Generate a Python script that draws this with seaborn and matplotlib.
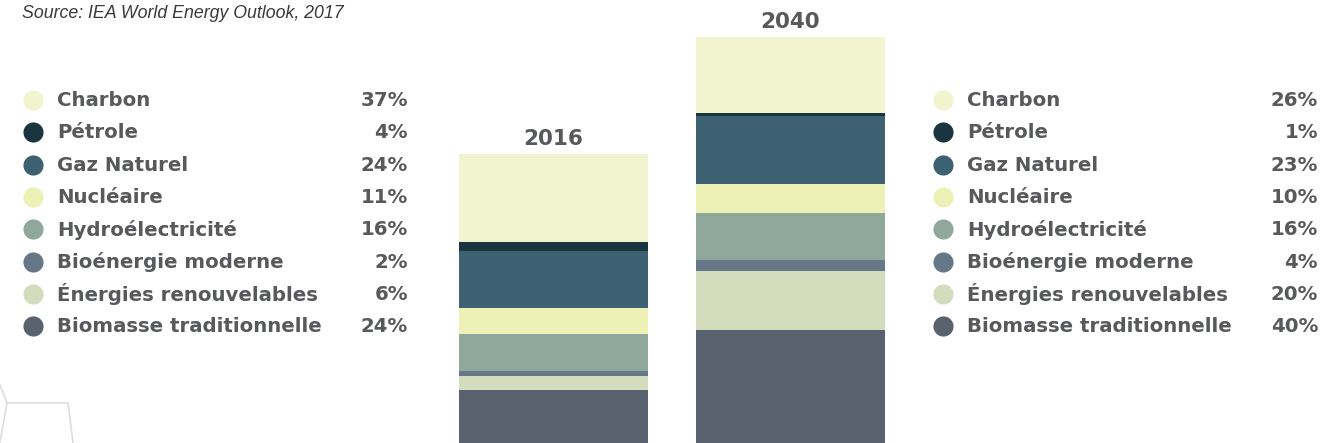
import numpy as np
import pandas as pd
import matplotlib
matplotlib.use("Agg")
import matplotlib.pyplot as plt
import seaborn as sns
from matplotlib.lines import Line2D

# data (shares in %, listed top to bottom as in the legend)
sources = ["Charbon", "Pétrole", "Gaz Naturel", "Nucléaire", "Hydroélectricité",
           "Bioénergie moderne", "Énergies renouvelables", "Biomasse traditionnelle"]
share_2016 = [37, 4, 24, 11, 16, 2, 6, 24]
share_2040 = [26, 1, 23, 10, 16, 4, 20, 40]
years = ["2016", "2040"]
# relative size of the bars (2040 bar drawn bigger)
bar_scale = [1.0, 1.24]
colors = ["#f2f4cf", "#1b3540", "#3d6170", "#eef1b6", "#90a89b",
          "#667887", "#d3ddbe", "#59606e"]

text_grey = "#58595b"

sns.set_style("white")
plt.rcParams["font.family"] = ["DejaVu Sans"]

fig = plt.figure(figsize=(13.22, 4.43), dpi=100)
ax = fig.add_axes([0, 0, 1, 1])

# stacked bars: cumulative sums from the bottom (last source) up
df = pd.DataFrame({"source": sources * 2,
                   "year": np.repeat(years, len(sources)),
                   "share": share_2016 + share_2040})
df["value"] = df["share"] * df["year"].map(dict(zip(years, bar_scale)))
df["order"] = list(range(len(sources))) * 2
df = df.sort_values(["year", "order"], ascending=[True, False])
df["cum"] = df.groupby("year")["value"].cumsum()

for i, src in enumerate(sources):
    sub = df[df["source"] == src]
    sns.barplot(data=sub, x="year", y="cum", order=years, color=colors[i],
                width=0.797, saturation=1, linewidth=0, ax=ax, errorbar=None)

totals = df.groupby("year")["value"].sum()
for i, y in enumerate(years):
    ax.annotate(y, (i, totals[y]), xytext=(0, 4), textcoords="offset points",
                ha="center", va="bottom", fontsize=15.5, fontweight="bold",
                color=text_grey)

ax.set_xlim(-553.5 / 237, (1322 - 553.5) / 237)
ax.set_ylim(1.7, 189.4)
ax.axis("off")

# legends on both sides
W, H = 1322, 443
for shares, cx, tx, px in [(share_2016, 33, 57, 408), (share_2040, 943, 967, 1318)]:
    for i, (src, val) in enumerate(zip(sources, shares)):
        yy = 1 - (100 + i * 32.3) / H
        ax.plot([cx / W], [yy], marker="o", markersize=14.5, color=colors[i],
                transform=fig.transFigure, clip_on=False, markeredgewidth=0)
        ty = yy + 1.5 / H
        fig.text(tx / W, ty, src, ha="left", va="center_baseline", fontsize=14.2,
                 fontweight="bold", color=text_grey)
        fig.text(px / W, ty, f"{val}%", ha="right", va="center_baseline",
                 fontsize=14.2, fontweight="bold", color=text_grey)

fig.text(22 / W, 1 - 13 / H, "Source: IEA World Energy Outlook, 2017",
         ha="left", va="center", fontsize=12.8, style="italic",
         family="Liberation Sans", color="#3a3a3a")

# faint decorative outline bottom-left
for xs, ys in [([0, 7, 68, 73], [385, 403, 403, 443]), ([7, 0], [403, 442])]:
    fig.add_artist(Line2D([x / W for x in xs], [1 - y / H for y in ys],
                          color="#dddddd", lw=1.2, transform=fig.transFigure))

fig.savefig("out.png", dpi=100)
